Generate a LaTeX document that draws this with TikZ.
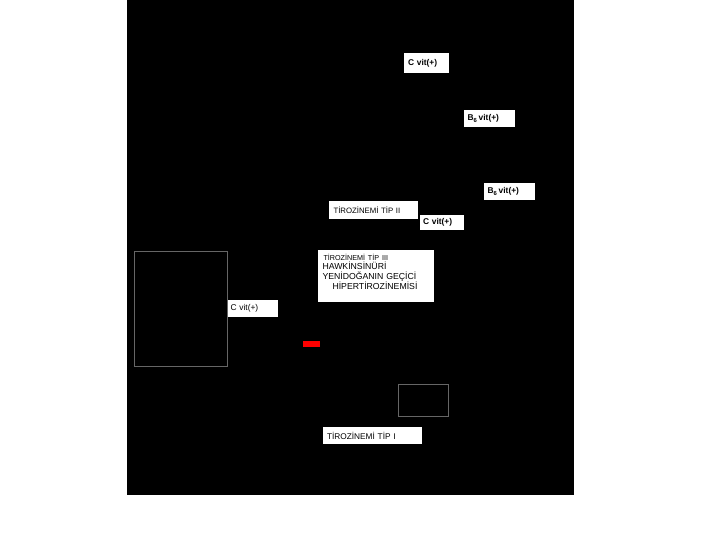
\documentclass[tikz,border=0pt]{standalone}
\usepackage{fontspec}
\setmainfont{Liberation Sans}
\usepackage{tikz}
\usetikzlibrary{shapes}

\tikzset{
  whitebox/.style={shape=rectangle,fill=white,inner sep=0pt,align=left},
  vitbox/.style={whitebox,font=\fontsize{8.4}{9}\selectfont\bfseries},
  tipbox/.style={whitebox,font=\fontsize{7.8}{9}\selectfont},
  grayframe/.style={draw=black!60!white,line width=0.6pt}
}

\begin{document}
\begin{tikzpicture}[x=1pt,y=-1pt]
\useasboundingbox (0,0) rectangle (720,540);
\fill[black] (127,0) rectangle (574,495);

% vitamin boxes
\node[vitbox,minimum width=45,minimum height=20,text width=37] (cvitA) at (426.5,63) {C vit(+)};
\node[vitbox,minimum width=51,minimum height=17,text width=44] (bsixA) at (489.5,118.5) {B\textsubscript{6}\,vit(+)};
\node[vitbox,minimum width=51,minimum height=17,text width=44] (bsixB) at (509.5,191.5) {B\textsubscript{6}\,vit(+)};
\node[vitbox,minimum width=44,minimum height=15,text width=38] (cvitB) at (442,222.5) {C vit(+)};
\node[vitbox,font=\fontsize{8.4}{9}\selectfont,minimum width=51,minimum height=17,text width=44] (cvitC) at (252.5,308.5) {C vit(+)};

% disease boxes
\node[tipbox,minimum width=89,minimum height=18,text width=80] (tipII) at (373.5,210) {T\.IROZ\.INEM\.I T\.IP II};
\node[tipbox,font=\fontsize{8.3}{9}\selectfont,minimum width=99,minimum height=17,text width=91] (tipI) at (372.5,435.5) {T\.IROZ\.INEM\.I T\.IP I};
\node[whitebox,minimum width=116,minimum height=52,text width=107,text depth=38pt,font=\fontsize{8.7}{9.8}\selectfont] (tipIII) at (376,276)
  {{\fontsize{7.2}{9.8}\selectfont\hspace*{1pt}T\.IROZ\.INEM\.I T\.IP III}\\
   HAWK\.INS\.IN\"UR\.I\\
   YEN\.IDO\u{G}ANIN GE\c{C}\.IC\.I\\
   \hspace*{10pt}H\.IPERT\.IROZ\.INEM\.IS\.I};

% frames and marker
\draw[grayframe] (134,251) rectangle (227,366);
\draw[grayframe] (398,384) rectangle (448,416);
\fill[red] (303,341) rectangle (320,347);
\end{tikzpicture}
\end{document}
